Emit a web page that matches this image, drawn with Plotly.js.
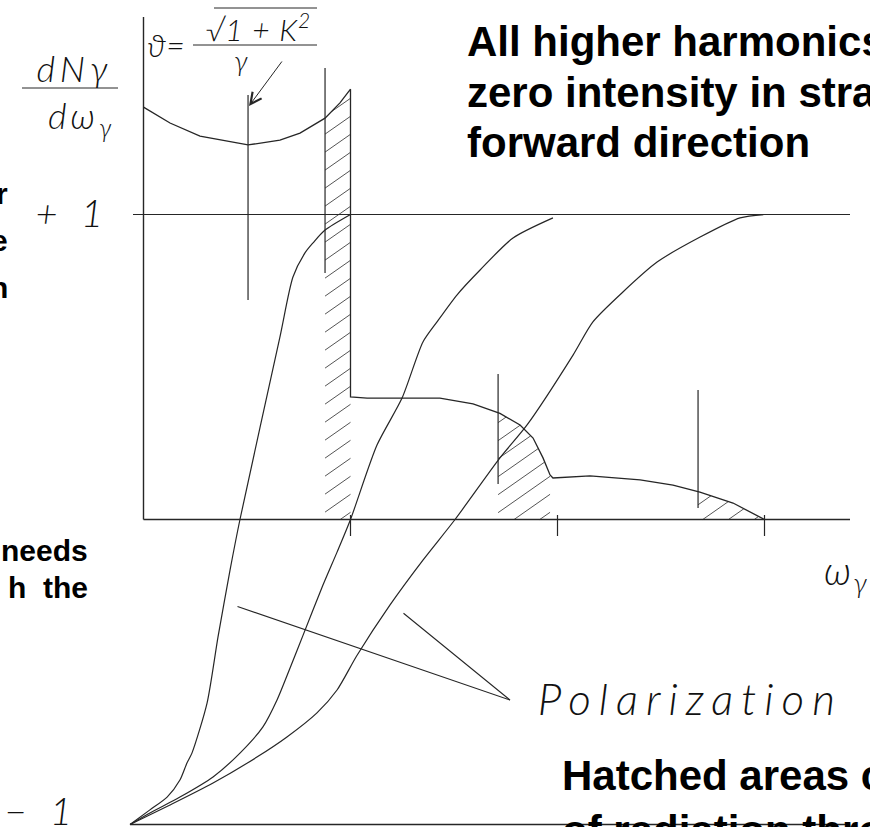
<!DOCTYPE html>
<html>
<head>
<meta charset="utf-8">
<script src="https://cdn.plot.ly/plotly-3.0.1.min.js"></script>
<style>
  html, body { margin: 0; padding: 0; background: #ffffff; }
  #chart { width: 870px; height: 827px; }
</style>
</head>
<body>
<div id="chart"></div>
<script>
// Photon energy in units of the first-harmonic edge (omega / omega_1)
const harmonicTicks = [1, 2, 3];

// Summed photon spectrum dN/dω (same vertical units as the polarization scale)
const specOmega = [0, 0.128, 0.273, 0.505, 0.659, 0.756, 0.877, 0.949, 1.0, 1.0, 1.080, 1.432,
  1.592, 1.722, 1.819, 1.882, 1.930, 1.949, 1.964, 1.978, 2.157, 2.399, 2.558, 2.688, 2.848, 3.0];
const specIntensity = [1.352, 1.300, 1.257, 1.228, 1.244, 1.267, 1.316, 1.366, 1.411, 0.402, 0.398, 0.398,
  0.379, 0.348, 0.310, 0.267, 0.202, 0.169, 0.146, 0.136, 0.143, 0.130, 0.113, 0.090, 0.054, 0];

// Circular polarization of the 1st, 2nd and 3rd harmonic
const pol1Omega = [-0.065, 0.031, 0.114, 0.176, 0.210, 0.234, 0.307, 0.360, 0.418, 0.466, 0.659, 0.722, 0.780, 0.819, 0.877, 1.0];
const pol1 = [-1, -0.952, -0.910, -0.854, -0.798, -0.766, -0.602, -0.385, -0.166, 0, 0.598, 0.795, 0.874, 0.907, 0.949, 1.0];

const pol2Omega = [-0.065, 0.031, 0.176, 0.336, 0.466, 0.577, 0.645, 0.708, 0.771, 0.867, 0.935, 1.0,
  1.128, 1.249, 1.350, 1.418, 1.514, 1.626, 1.785, 1.978];
const pol2 = [-1, -0.962, -0.910, -0.844, -0.766, -0.680, -0.592, -0.487, -0.379, -0.215, -0.107, 0,
  0.244, 0.398, 0.582, 0.648, 0.736, 0.818, 0.923, 0.989];

const pol3Omega = [-0.065, 0.128, 0.336, 0.548, 0.693, 0.838, 0.935, 1.031, 1.191, 1.350, 1.505,
  1.722, 1.853, 2.075, 2.171, 2.316, 2.481, 2.689, 2.882, 3.0];
const pol3 = [-1, -0.936, -0.864, -0.779, -0.713, -0.634, -0.559, -0.446, -0.280, -0.133, 0,
  0.202, 0.310, 0.539, 0.648, 0.746, 0.844, 0.926, 0.989, 1.0];

// Collimator cut positions (angle ϑ mapped onto each harmonic)
const cutOmega = [0.505, 0.877, 1.713, 2.679];
const cutTop = [1.392, 1.480, 0.477, 0.425];
const cutBottom = [0.720, 0.808, 0.116, 0.038];

// Hatched (transmitted) bands: from the cut position to the harmonic edge
const bandStart = [0.877, 1.713, 2.679];
const bandEnd = [1.0, 1.964, 3.0];

// ---- frame geometry: 207 px per ω-unit, 305 px per vertical unit ----
const W = 870, H = 827, OX = 143.5, OY = 519.5, SX = 207, SY = 305;
const px = p => (p - OX) / SX;
const py = p => (OY - p) / SY;

const INK = '#262626';
const THIN = { family: 'Lato, Roboto, DejaVu Sans, sans-serif', weight: 300, style: 'italic', color: '#111' };
const BOLD = { family: 'Liberation Sans, Arial, sans-serif', weight: 'bold', color: '#000' };

// spectrum value on its left-continuous branch
function spectrumAt(x) {
  for (let i = 0; i < specOmega.length - 1; i++) {
    const a = specOmega[i], b = specOmega[i + 1];
    if (b > a && x >= a && x <= b) {
      return specIntensity[i] + (specIntensity[i + 1] - specIntensity[i]) * (x - a) / (b - a);
    }
  }
  return 0;
}

// diagonal hatch segments clipped to the area under the spectrum
function hatch(xL, xR) {
  const slope = 0.7 * SX / SY, gap = 18 / SY, n = 400;
  let top = 0;
  for (let k = 0; k <= n; k++) top = Math.max(top, spectrumAt(xL + (xR - xL) * k / n));
  const hx = [], hy = [];
  for (let c = -slope * (xR - xL) + gap * 0.4; c < top; c += gap) {
    let first = null, last = null;
    for (let k = 0; k <= n; k++) {
      const x = xL + (xR - xL) * k / n;
      const y = c + slope * (x - xL);
      if (y >= 0 && y <= spectrumAt(x)) {
        if (first === null) first = [x, y];
        last = [x, y];
      }
    }
    if (first && last && last[0] - first[0] > 1e-3) {
      hx.push(first[0], last[0], null);
      hy.push(first[1], last[1], null);
    }
  }
  return { hx, hy };
}

const traces = [];
bandStart.forEach((s, i) => {
  const h = hatch(s, bandEnd[i]);
  traces.push({ x: h.hx, y: h.hy, mode: 'lines', line: { color: '#555', width: 1 }, hoverinfo: 'skip' });
});

const cx = [], cy = [];
cutOmega.forEach((o, i) => { cx.push(o, o, null); cy.push(cutTop[i], cutBottom[i], null); });
traces.push({ x: cx, y: cy, mode: 'lines', line: { color: INK, width: 1.2 }, hoverinfo: 'skip' });

traces.push({ x: specOmega, y: specIntensity, mode: 'lines', line: { color: INK, width: 1.3 }, hoverinfo: 'skip' });
[[pol1Omega, pol1], [pol2Omega, pol2], [pol3Omega, pol3]].forEach(([xs, ys]) => {
  traces.push({ x: xs, y: ys, mode: 'lines', line: { color: INK, width: 1.2, shape: 'spline', smoothing: 0.7 },
    hoverinfo: 'skip' });
});

const shapes = [];
const seg = (x0, y0, x1, y1, w) => shapes.push({ type: 'line', xref: 'x', yref: 'y', x0, y0, x1, y1,
  line: { color: INK, width: w || 1.2 } });
seg(0, py(17), 0, 0, 1.4);                 // vertical axis
seg(0, 0, px(850), 0, 1.4);                // ω axis
seg(px(133), 1, px(850), 1);               // polarization +1
seg(px(130), -1, px(850), -1, 1.4);        // polarization -1
harmonicTicks.forEach(t => seg(t, py(515), t, py(536)));
// fraction bars of the labels
seg(px(22), py(88), px(118), py(88), 1);
seg(px(193), py(45), px(317), py(45), 1);
seg(px(214), py(8), px(317), py(8), 1);

const ann = [];
const spacing = [];   // per-annotation letter spacing (px)
const txt = (text, x, y, font, xanchor, yanchor, track) => {
  spacing.push(track || 0);
  ann.push({ text, x: px(x), y: py(y), xref: 'x', yref: 'y',
    showarrow: false, xanchor: xanchor || 'left', yanchor: yanchor || 'middle', font });
};

// bold explanatory text
txt('All higher harmonics have', 465, 41, Object.assign({ size: 42 }, BOLD));
txt('zero intensity in straight', 465, 92, Object.assign({ size: 42 }, BOLD));
txt('forward direction', 465, 142, Object.assign({ size: 42 }, BOLD));
txt('Hatched areas contain', 560, 775, Object.assign({ size: 42 }, BOLD));
txt('of radiation through', 560, 805, Object.assign({ size: 42 }, BOLD), 'left', 'top');
txt('r', 10, 193, Object.assign({ size: 30 }, BOLD), 'right');
txt('e', 10, 240, Object.assign({ size: 30 }, BOLD), 'right');
txt('n', 10, 287, Object.assign({ size: 30 }, BOLD), 'right');
txt('needs', 90, 550, Object.assign({ size: 30 }, BOLD), 'right');
txt('h\u00a0\u00a0the', 90, 587, Object.assign({ size: 30 }, BOLD), 'right');

// drawing labels (centred, so that the extra letter spacing stays symmetric)
txt('dNγ', 75, 68, Object.assign({ size: 36 }, THIN), 'center', 'middle', 5);
txt('dω<sub>γ</sub>', 82, 117, Object.assign({ size: 36 }, THIN), 'center', 'middle', 4);
txt('+ 1', 73, 212, Object.assign({ size: 38 }, THIN), 'center', 'middle', 7);
txt('− 1', 42, 810, Object.assign({ size: 38 }, THIN), 'center', 'middle', 7);
txt('ω<sub>γ</sub>', 846, 572, Object.assign({ size: 40 }, THIN), 'center', 'middle', 2);
txt('Polarization', 690, 698, Object.assign({ size: 44 }, THIN), 'center', 'middle', 8);
txt('ϑ=', 166, 44, Object.assign({ size: 32 }, THIN), 'center', 'middle', 1);
txt('√1 + K<sup>2</sup>', 258, 27, Object.assign({ size: 30 }, THIN), 'center', 'middle', 1);
txt('γ', 241, 60, Object.assign({ size: 28 }, THIN), 'center');

// arrow from the ϑ formula to the first cut, and leaders of the polarization label
ann.push({ x: px(249), y: py(106), ax: px(283), ay: py(60), axref: 'x', ayref: 'y', xref: 'x', yref: 'y',
  text: '', showarrow: true, arrowhead: 5, arrowsize: 2.2, arrowwidth: 1, arrowcolor: INK, standoff: 0 });
[[236, 606], [402, 612]].forEach(([a, b]) => ann.push({ x: px(510), y: py(700), ax: px(a), ay: py(b),
  axref: 'x', ayref: 'y', xref: 'x', yref: 'y', text: '', showarrow: true, arrowhead: 0,
  arrowwidth: 1.1, arrowcolor: INK, standoff: 0 }));

// letter spacing for the drafting-style labels
const css = spacing.map((s, i) => s ? `.annotation[data-index="${i}"] text { letter-spacing: ${s}px; }` : '').join('\n');
const styleEl = document.createElement('style');
styleEl.textContent = css;
document.head.appendChild(styleEl);

const layout = {
  width: W, height: H,
  margin: { l: 0, r: 0, t: 0, b: 0, pad: 0 },
  paper_bgcolor: '#ffffff', plot_bgcolor: '#ffffff',
  showlegend: false,
  xaxis: { range: [px(0), px(W)], visible: false, fixedrange: true },
  yaxis: { range: [py(H), py(0)], visible: false, fixedrange: true },
  shapes, annotations: ann
};

Plotly.newPlot('chart', traces, layout, { staticPlot: true, displayModeBar: false });
</script>
</body>
</html>
